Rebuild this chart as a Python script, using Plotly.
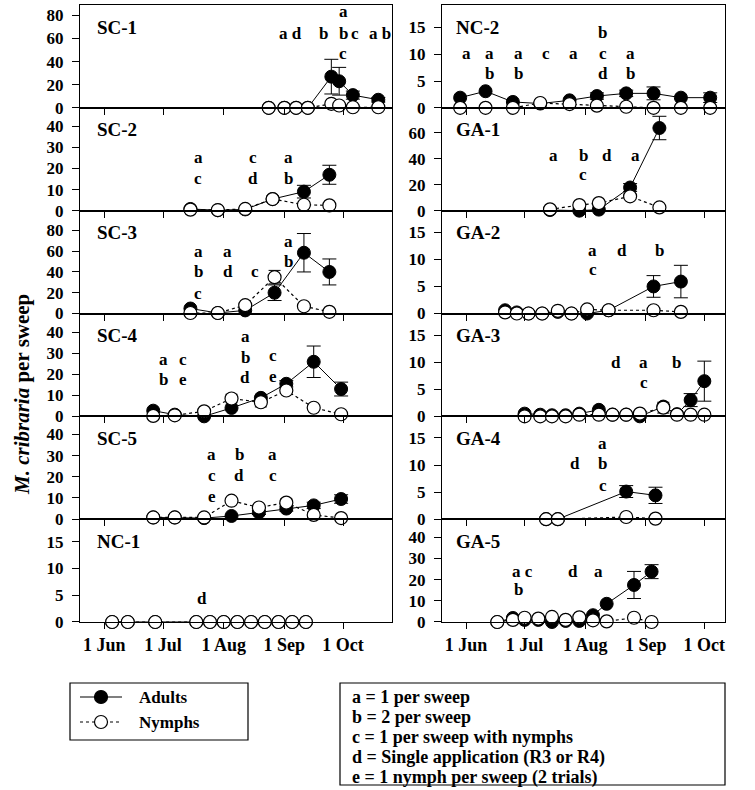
import plotly.graph_objects as go

YEAR = 2011
FONT = "Liberation Serif, Times New Roman, Times, serif"

# ---------------- data (month-day, values) ----------------
sc1_dates = ["08-24", "09-01", "09-07", "09-13", "09-25", "09-29", "10-06", "10-19"]
sc1_adults = [0, 0, 0, 0, 27, 23, 11, 7]
sc1_adults_err = [0, 0, 0, 0, 15, 12, 3.5, 2]
sc1_nymphs = [0, 0, 0, 0, 3.5, 2, 0.5, 0.5]
sc1_nymphs_err = [0, 0, 0, 0, 0, 0, 0, 0]

sc2_dates = ["07-15", "07-29", "08-12", "08-26", "09-11", "09-24"]
sc2_adults = [0.8, 0.2, 0.6, 5.5, 9, 17]
sc2_adults_err = [0, 0, 0, 0, 3, 4.5]
sc2_nymphs = [0.5, 0.3, 0.8, 5.5, 2.8, 2.5]
sc2_nymphs_err = [0, 0, 0, 1.5, 1.5, 0]

sc3_dates = ["07-15", "07-29", "08-12", "08-27", "09-11", "09-24"]
sc3_adults = [4.8, 0.5, 3, 20, 58.5, 40]
sc3_adults_err = [0, 0, 0, 7.5, 18.5, 12.5]
sc3_nymphs = [0.5, 0.5, 8, 35, 7, 1.6]
sc3_nymphs_err = [0, 0, 0, 6.5, 0, 0]

sc4_dates = ["06-26", "07-07", "07-22", "08-05", "08-20", "09-02", "09-16", "09-30"]
sc4_adults = [2.7, 0.8, 0, 4, 8.8, 15.5, 26, 13]
sc4_adults_err = [0, 0, 0, 0, 0, 1.5, 7.5, 3.3]
sc4_nymphs = [0.2, 0.5, 2.4, 8.5, 6.7, 12.3, 4.1, 1]
sc4_nymphs_err = [0, 0, 0, 2, 2.2, 0, 0, 0]

sc5_dates = ["06-26", "07-07", "07-22", "08-05", "08-19", "09-02", "09-16", "09-30"]
sc5_adults = [0.8, 0.8, 0.5, 1.5, 3.2, 5, 6.5, 9.5]
sc5_adults_err = [0, 0, 0, 0, 1, 1.2, 1.5, 2]
sc5_nymphs = [0.8, 0.8, 0.8, 8.7, 5.5, 7.8, 2, 0.5]
sc5_nymphs_err = [0, 0, 0, 0, 1.5, 1.8, 0, 0]

nc1_dates = ["06-05", "06-13", "06-27", "07-18", "07-25", "08-01", "08-08", "08-15",
             "08-22", "08-29", "09-05", "09-12"]
nc1_adults = [0, 0, 0, 0, 0, 0, 0, 0, 0, 0, 0, 0]
nc1_adults_err = [0, 0, 0, 0, 0, 0, 0, 0, 0, 0, 0, 0]
nc1_nymphs = [0, 0, 0, 0, 0, 0, 0, 0, 0, 0, 0, 0]
nc1_nymphs_err = [0, 0, 0, 0, 0, 0, 0, 0, 0, 0, 0, 0]

nc2_dates = ["05-29", "06-11", "06-25", "07-09", "07-24", "08-07", "08-22", "09-05", "09-19", "10-04"]
nc2_adults = [1.9, 3.1, 1.1, 0.8, 1.4, 2.2, 2.7, 2.7, 1.9, 1.9]
nc2_adults_err = [0, 0, 0, 0, 0, 0.6, 0.6, 1.2, 0, 0.9]
nc2_nymphs = [0, 0, 0, 0.9, 0.7, 0.4, 0.2, 0, 0, 0]
nc2_nymphs_err = [0, 0, 0, 0, 0, 0, 0, 0, 0, 0]

ga1_dates = ["07-14", "07-29", "08-08", "08-24", "09-08"]
ga1_adults = [0.5, 0, 0.8, 17.8, 63.5]
ga1_adults_err = [0, 0, 0, 3, 9]
ga1_nymphs = [1, 4.3, 5.8, 11, 2.5]
ga1_nymphs_err = [0, 0, 0, 2, 0]

ga2_dates = ["06-21", "06-27", "07-03", "07-10", "07-18", "07-25", "08-02", "08-13", "09-05", "09-19"]
ga2_adults = [0.6, 0.2, 0, 0, 0.3, 0, 0, 0.6, 5, 5.9]
ga2_adults_err = [0, 0, 0, 0, 0, 0, 0, 0, 2, 3]
ga2_nymphs = [0.2, 0, 0, 0, 0.5, 0, 0.75, 0.6, 0.6, 0.3]
ga2_nymphs_err = [0, 0, 0, 0, 0, 0, 0, 0, 0, 0]

ga3_dates = ["07-01", "07-09", "07-15", "07-22", "07-29", "08-08", "08-15", "08-22", "08-29",
             "09-10", "09-17", "09-24", "10-01"]
ga3_adults = [0.5, 0.3, 0.2, 0.2, 0.5, 1.2, 0.3, 0.3, 0, 1.8, 0.4, 3, 6.5]
ga3_adults_err = [0, 0, 0, 0, 0, 0, 0, 0, 0, 0, 0, 1.2, 3.7]
ga3_nymphs = [0, 0, 0, 0, 0.3, 0.3, 0.3, 0.3, 0.5, 1.6, 0.3, 0.3, 0.3]
ga3_nymphs_err = [0, 0, 0, 0, 0, 0, 0, 0, 0, 1.0, 0, 0, 0]

ga4_dates = ["07-12", "07-18", "08-22", "09-06"]
ga4_adults = [0, 0, 5.1, 4.4]
ga4_adults_err = [0, 0, 1.1, 1.5]
ga4_nymphs = [0, 0, 0.4, 0.1]
ga4_nymphs_err = [0, 0, 0, 0]

ga5_dates = ["06-17", "06-25", "07-01", "07-08", "07-15", "07-22", "07-29", "08-05", "08-12", "08-26", "09-04"]
ga5_adults = [0, 1.9, 1, 1, 0, 0.5, 0.5, 3.2, 8.6, 17.5, 23.8]
ga5_adults_err = [0, 0, 0, 0, 0, 0, 0, 0, 0, 6.4, 3.3]
ga5_nymphs = [0, 1, 2, 1.6, 2.4, 1, 2.2, 0.8, 0.3, 2, 0]
ga5_nymphs_err = [0, 0, 0, 0, 0, 0, 0, 0, 0, 0, 0]

# significance letters: (month-day, y value, text)
sc1_notes = [("09-04", 64.6, "a d"), ("09-21", 64.6, "b"), ("10-01", 83.5, "a"), ("10-01", 64.6, "b"),
             ("10-07", 64.6, "c"), ("10-01", 47, "c"), ("10-20", 64.6, "a b")]
sc2_notes = [("07-19", 25.3, "a"), ("07-19", 15.1, "c"), ("08-16", 25.3, "c"), ("08-16", 15.1, "d"),
             ("09-03", 25.3, "a"), ("09-03", 15.1, "b")]
sc3_notes = [("07-19", 60, "a"), ("07-19", 40, "b"), ("07-19", 19.2, "c"), ("08-03", 60, "a"),
             ("08-03", 40, "d"), ("08-17", 40, "c"), ("09-03", 69.5, "a"), ("09-03", 49.7, "b")]
sc4_notes = [("07-01", 27.2, "a"), ("07-01", 17.6, "b"), ("07-11", 27.2, "c"), ("07-11", 17.6, "e"),
             ("08-12", 38.1, "a"), ("08-12", 28, "b"), ("08-12", 18.4, "d"), ("08-26", 28.8, "c"),
             ("08-26", 18.9, "e")]
sc5_notes = [("07-26", 30.5, "a"), ("07-26", 20.6, "c"), ("07-26", 10.8, "e"), ("08-09", 30.5, "b"),
             ("08-09", 20.6, "d"), ("08-26", 30.5, "a"), ("08-26", 20.6, "c")]
nc1_notes = [("07-21", 4.4, "d")]
nc2_notes = [("06-01", 10.1, "a"), ("06-13", 10.1, "a"), ("06-13", 6.4, "b"), ("06-28", 10.1, "a"),
             ("06-28", 6.4, "b"), ("07-12", 10.1, "c"), ("07-26", 10.1, "a"), ("08-10", 14.1, "b"),
             ("08-10", 10.1, "c"), ("08-10", 6.4, "d"), ("08-24", 10.1, "a"), ("08-24", 6.4, "b")]
ga1_notes = [("07-16", 42.5, "a"), ("07-31", 42.5, "b"), ("07-31", 28, "c"), ("08-12", 42.5, "d"),
             ("08-27", 42.5, "a")]
ga2_notes = [("08-05", 11.6, "a"), ("08-05", 8.1, "c"), ("08-20", 11.6, "d"), ("09-08", 11.6, "b")]
ga3_notes = [("08-17", 9.9, "d"), ("08-31", 9.9, "a"), ("08-31", 6.3, "c"), ("09-17", 9.9, "b")]
ga4_notes = [("07-27", 10.2, "d"), ("08-10", 14, "a"), ("08-10", 10.2, "b"), ("08-10", 6.2, "c")]
ga5_notes = [("06-30", 24.1, "a c"), ("06-28", 15.4, "b"), ("07-26", 24.1, "d"), ("08-08", 24.1, "a")]

tick_dates = ["06-01", "07-01", "08-01", "09-01", "10-01"]
tick_labels = ["1 Jun", "1 Jul", "1 Aug", "1 Sep", "1 Oct"]

legend_labels = ["Adults", "Nymphs"]
key_lines = ["a = 1 per sweep", "b = 2 per sweep", "c = 1 per sweep with nymphs",
             "d = Single application (R3 or R4)", "e = 1 nymph per sweep (2 trials)"]

panels = [
    ("SC-1", 0, 0, sc1_dates, sc1_adults, sc1_adults_err, sc1_nymphs, sc1_nymphs_err, 89, 20, sc1_notes),
    ("SC-2", 0, 1, sc2_dates, sc2_adults, sc2_adults_err, sc2_nymphs, sc2_nymphs_err, 48.7, 10, sc2_notes),
    ("SC-3", 0, 2, sc3_dates, sc3_adults, sc3_adults_err, sc3_nymphs, sc3_nymphs_err, 99, 20, sc3_notes),
    ("SC-4", 0, 3, sc4_dates, sc4_adults, sc4_adults_err, sc4_nymphs, sc4_nymphs_err, 49, 10, sc4_notes),
    ("SC-5", 0, 4, sc5_dates, sc5_adults, sc5_adults_err, sc5_nymphs, sc5_nymphs_err, 48.5, 10, sc5_notes),
    ("NC-1", 0, 5, nc1_dates, nc1_adults, nc1_adults_err, nc1_nymphs, nc1_nymphs_err, 19.2, 5, nc1_notes),
    ("NC-2", 1, 0, nc2_dates, nc2_adults, nc2_adults_err, nc2_nymphs, nc2_nymphs_err, 19.2, 5, nc2_notes),
    ("GA-1", 1, 1, ga1_dates, ga1_adults, ga1_adults_err, ga1_nymphs, ga1_nymphs_err, 79, 20, ga1_notes),
    ("GA-2", 1, 2, ga2_dates, ga2_adults, ga2_adults_err, ga2_nymphs, ga2_nymphs_err, 19, 5, ga2_notes),
    ("GA-3", 1, 3, ga3_dates, ga3_adults, ga3_adults_err, ga3_nymphs, ga3_nymphs_err, 19, 5, ga3_notes),
    ("GA-4", 1, 4, ga4_dates, ga4_adults, ga4_adults_err, ga4_nymphs, ga4_nymphs_err, 19, 5, ga4_notes),
    ("GA-5", 1, 5, ga5_dates, ga5_adults, ga5_adults_err, ga5_nymphs, ga5_nymphs_err, 48.6, 10, ga5_notes),
]

# ---------------- layout geometry (pixels) ----------------
W, H = 755, 790
ML, MR, MT, MB = 80, 30, 5, 168
PW, PH = W - ML - MR, H - MT - MB


def px(x):
    return (x - ML) / PW


def py(y):
    return 1 - (y - MT) / PH


col_domains = [[0, px(392)], [px(442), 1]]
col_ranges = [[f"{YEAR}-05-19 14:00", f"{YEAR}-10-26"], [f"{YEAR}-05-19 17:00", f"{YEAR}-10-11 14:00"]]
label_x = [0.048, 0.043]


def dt(md):
    return f"{YEAR}-{md}"


fig = go.Figure()
annotations = []
layout_axes = {}

for i, (name, col, row, dates, ad, ad_err, ny, ny_err, ytop, dtick, notes) in enumerate(panels):
    n = i + 1
    xa = "x" if n == 1 else f"x{n}"
    ya = "y" if n == 1 else f"y{n}"
    xs = [dt(d) for d in dates]

    ex = [x for x, e in zip(xs, ad_err) if e > 0]
    if ex:
        fig.add_trace(go.Scatter(
            x=ex, y=[v for v, e in zip(ad, ad_err) if e > 0], mode="markers",
            marker=dict(size=2, color="black"),
            error_y=dict(type="data", array=[e for e in ad_err if e > 0], color="black", thickness=1, width=7),
            xaxis=xa, yaxis=ya, showlegend=False, hoverinfo="skip", cliponaxis=False))
    fig.add_trace(go.Scatter(
        x=xs, y=ad, mode="lines+markers", name=legend_labels[0],
        line=dict(color="black", width=1),
        marker=dict(symbol="circle", size=13, color="black", line=dict(color="black", width=1)),
        xaxis=xa, yaxis=ya, showlegend=False, cliponaxis=False))
    nx = [x for x, e in zip(xs, ny_err) if e > 0]
    if nx:
        fig.add_trace(go.Scatter(
            x=nx, y=[v for v, e in zip(ny, ny_err) if e > 0], mode="markers",
            marker=dict(size=2, color="black"),
            error_y=dict(type="data", array=[e for e in ny_err if e > 0], color="black", thickness=1, width=6),
            xaxis=xa, yaxis=ya, showlegend=False, hoverinfo="skip", cliponaxis=False))
    fig.add_trace(go.Scatter(
        x=xs, y=ny, mode="lines+markers", name=legend_labels[1],
        line=dict(color="black", width=1.2, dash="dot"),
        marker=dict(symbol="circle", size=13, color="white", line=dict(color="black", width=1.2)),
        xaxis=xa, yaxis=ya, showlegend=False, cliponaxis=False))

    ydom = [1 - (row + 1) / 6, 1 - row / 6]
    xkey = "xaxis" if n == 1 else f"xaxis{n}"
    ykey = "yaxis" if n == 1 else f"yaxis{n}"
    layout_axes[xkey] = dict(
        domain=col_domains[col], anchor=ya, type="date", range=col_ranges[col],
        tickvals=[dt(d) for d in tick_dates], ticktext=tick_labels,
        showticklabels=(row == 5), ticks="outside", ticklen=6, tickwidth=1, tickcolor="black",
        showline=True, mirror=True, linecolor="black", linewidth=1.2,
        showgrid=False, zeroline=False,
        tickfont=dict(family=FONT, size=18, color="black", weight="bold"))
    layout_axes[ykey] = dict(
        domain=ydom, anchor=xa, range=[0, ytop], tick0=0, dtick=dtick,
        ticks="outside", ticklen=7, tickwidth=1, tickcolor="black", ticklabelstandoff=5,
        showline=True, mirror=True, linecolor="black", linewidth=1.2,
        showgrid=False, zeroline=False,
        tickfont=dict(family=FONT, size=17, color="black", weight="bold"))

    annotations.append(dict(
        text=f"<b>{name}</b>", xref=f"{xa} domain", yref=f"{ya} domain", x=label_x[col], y=0.785,
        xanchor="left", yanchor="middle", showarrow=False,
        font=dict(family=FONT, size=19, color="black", weight="bold")))
    for md, yv, t in notes:
        annotations.append(dict(
            text=f"<b>{t}</b>", xref=xa, yref=ya, x=dt(md), y=yv, xanchor="center", yanchor="middle",
            showarrow=False, font=dict(family=FONT, size=17, color="black", weight="bold")))

annotations.append(dict(
    text="<b><i>M. cribraria</i> per sweep</b>", xref="paper", yref="paper", x=px(22), y=py(395),
    xanchor="center", yanchor="middle", textangle=-90, showarrow=False,
    font=dict(family=FONT, size=21, color="black", weight="bold")))

shapes = []
shapes.append(dict(type="rect", xref="paper", yref="paper", x0=px(70), x1=px(248), y0=py(740), y1=py(683),
                   line=dict(color="black", width=1.2), fillcolor="rgba(0,0,0,0)"))
leg_rows = [(697, "solid", "black"), (722, "dot", "white")]
for (yy, dash, fillc), lab in zip(leg_rows, legend_labels):
    shapes.append(dict(type="line", xref="paper", yref="paper", x0=px(80), x1=px(122), y0=py(yy), y1=py(yy),
                       line=dict(color="black", width=1.2, dash=dash)))
    shapes.append(dict(type="circle", xref="paper", yref="paper", xsizemode="pixel", ysizemode="pixel",
                       xanchor=px(101), yanchor=py(yy), x0=-6.5, x1=6.5, y0=-6.5, y1=6.5,
                       fillcolor=fillc, line=dict(color="black", width=1.2)))
    annotations.append(dict(text=f"<b>{lab}</b>", xref="paper", yref="paper", x=px(137), y=py(yy),
                            xanchor="left", yanchor="middle", showarrow=False,
                            font=dict(family=FONT, size=17, color="black", weight="bold")))

shapes.append(dict(type="rect", xref="paper", yref="paper", x0=px(340), x1=px(725), y0=py(785), y1=py(683),
                   line=dict(color="black", width=1.2), fillcolor="rgba(0,0,0,0)"))
for k, line in enumerate(key_lines):
    annotations.append(dict(text=f"<b>{line}</b>", xref="paper", yref="paper", x=px(350), y=py(697 + 20 * k),
                            xanchor="left", yanchor="middle", showarrow=False,
                            font=dict(family=FONT, size=18, color="black", weight="bold")))

fig.update_layout(
    width=W, height=H, margin=dict(l=ML, r=MR, t=MT, b=MB),
    paper_bgcolor="white", plot_bgcolor="white", showlegend=False,
    font=dict(family=FONT, color="black"),
    annotations=annotations, shapes=shapes, **layout_axes)

fig.write_html("out.html", config={"displayModeBar": False},
               post_script="document.body.style.margin='0';")
